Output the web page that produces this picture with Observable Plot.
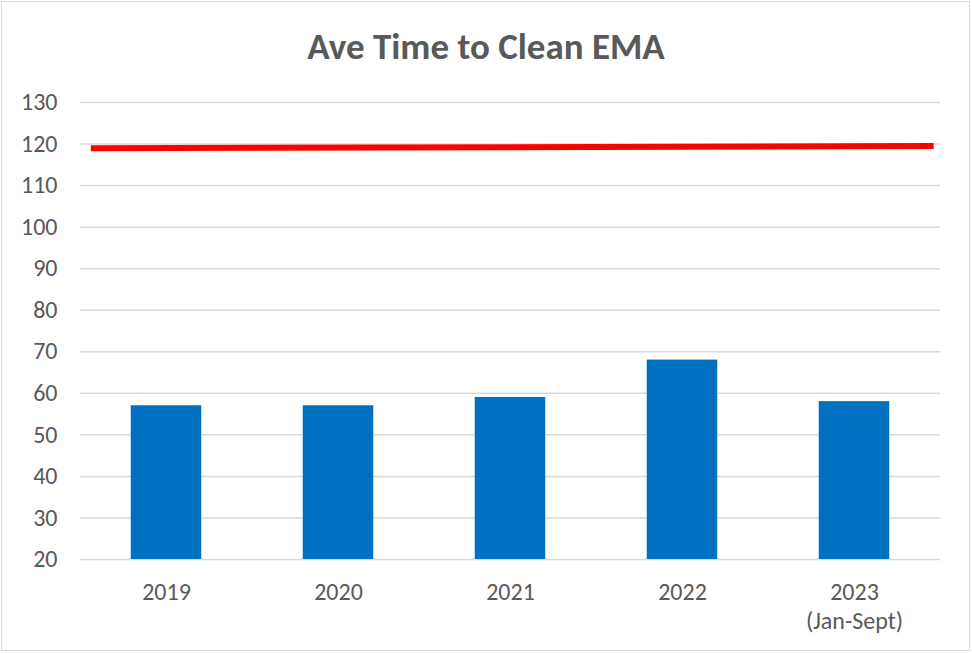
<!DOCTYPE html>
<html>
<head>
<meta charset="utf-8">
<script src="https://cdn.jsdelivr.net/npm/d3@7"></script>
<script src="https://cdn.jsdelivr.net/npm/@observablehq/plot@0.6"></script>
<style>
  html, body { margin: 0; padding: 0; background: #fff; }
  body { width: 972px; height: 654px; position: relative; overflow: hidden; font-family: Carlito, Calibri, Lato, sans-serif; }
  #frame { position: absolute; left: 1px; top: 1px; width: 967px; height: 648px; border: 1.5px solid #d9d9d9; }
  #title { position: absolute; left: 0; top: 25px; width: 972px; text-align: center; font-size: 37px; font-weight: bold; color: #595959; line-height: 44px; }
  #chart { position: absolute; left: 0; top: 80px; }
</style>
</head>
<body>
<div id="frame"></div>
<div id="title">Ave Time to Clean EMA</div>
<div id="chart"></div>
<script>
const categories = ["2019", "2020", "2021", "2022", "2023\n(Jan-Sept)"];
const values = [57, 57, 59, 68, 58];
const yTicks = [20, 30, 40, 50, 60, 70, 80, 90, 100, 110, 120, 130];
const refLineX = [-0.44, 4.46];
const refLineY = [119, 119.5];

const bars = categories.map((c, i) => ({i, c, v: values[i]}));
const refLine = refLineX.map((x, k) => ({x, y: refLineY[k]}));
const halfWidth = 0.205;

const plot = Plot.plot({
  width: 972,
  height: 572,
  marginLeft: 80,
  marginRight: 32,
  marginTop: 22,
  marginBottom: 93,
  style: { fontFamily: "Carlito, Calibri, Lato, sans-serif", background: "transparent" },
  x: { type: "linear", domain: [-0.5, 4.5] },
  y: { domain: [20, 130] },
  marks: [
    Plot.gridY(yTicks, { stroke: "#d9d9d9", strokeOpacity: 1, strokeWidth: 1.5 }),
    Plot.rectY(bars, { x1: d => d.i - halfWidth, x2: d => d.i + halfWidth, y1: 20, y2: "v", fill: "#0070C0" }),
    Plot.line(refLine, { x: "x", y: "y", stroke: "#FF0000", strokeWidth: 6, strokeLinecap: "butt" }),
    Plot.axisY({ ticks: yTicks, tickSize: 0, tickPadding: 23, fontSize: 24, fill: "#595959", label: null }),
    Plot.axisX({ ticks: d3.range(categories.length), tickFormat: i => categories[i], tickSize: 0, tickPadding: 20, fontSize: 24, fill: "#595959", lineHeight: 1.2, label: null })
  ]
});
document.getElementById("chart").appendChild(plot);
</script>
</body>
</html>
